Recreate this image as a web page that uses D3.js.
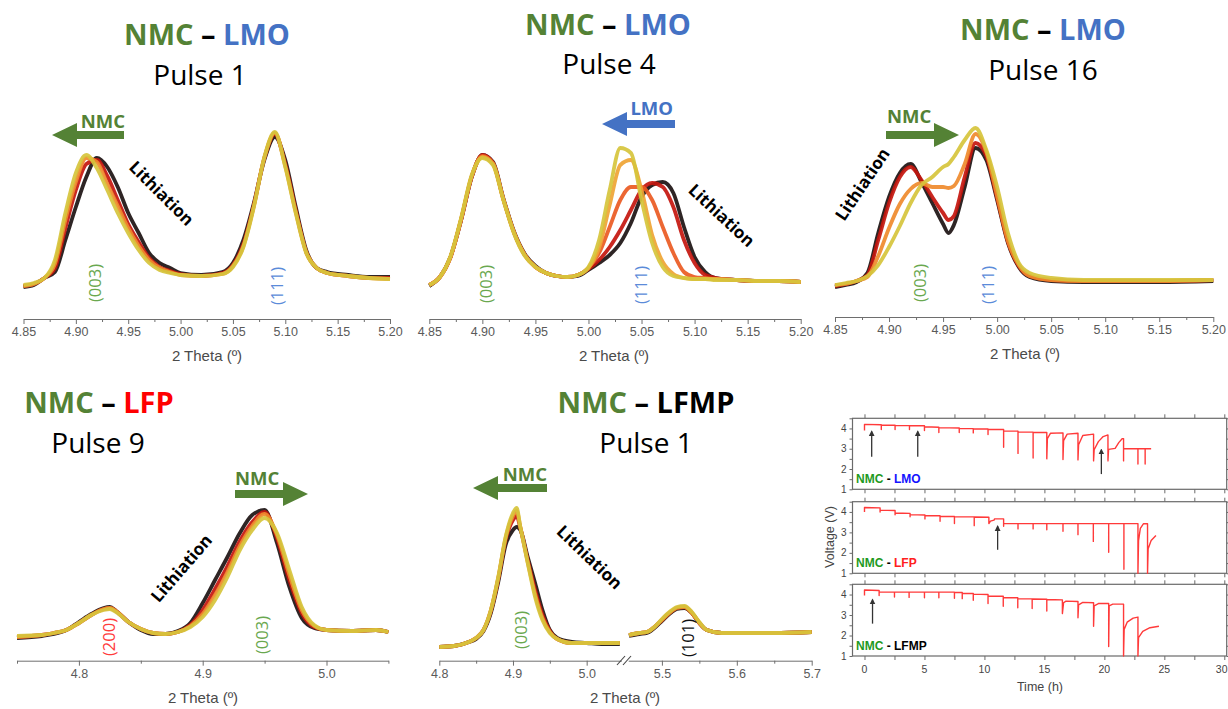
<!DOCTYPE html>
<html>
<head>
<meta charset="utf-8">
<script src="https://cdn.jsdelivr.net/npm/d3@7"></script>
<style>
  body { margin: 0; background: #fff; }
  svg { display: block; }
</style>
</head>
<body>
<svg id="fig" width="1228" height="709"></svg>
<script>
// ---------------- XRD scans (2θ in degrees, intensity in a.u.) ----------------
// Each pattern: a 2θ grid and several scans, from the first (start) to the last (end) of the pulse.

// NMC – LMO, pulse 1
const lmo1Theta = [4.85,4.86,4.87,4.88,4.89,4.90,4.91,4.92,4.93,4.94,4.95,4.96,4.97,4.98,4.99,5.00,5.02,5.04,5.05,5.06,5.07,5.08,5.09,5.10,5.11,5.12,5.13,5.14,5.16,5.18,5.20];
const lmo1Start = [6.5,7.5,11,14,30,46.5,61.5,71,66.5,56.5,43.5,33.5,23.5,18.5,16,13.5,12.5,14,18.5,30,48.5,70,81.5,70,46.5,25,16,14,12.5,11.5,11.5];
const lmo1Early = [7,8,11,16,36,55,68,70,62,50,38,29,21,16.5,14.5,13,12,13.5,17.5,28,47.5,71,83,68,45,24,16,13.5,12,11,11];
const lmo1Late  = [7,8,11,18,40,59,71,69,58,47,36,27,20,16,14,12.5,12,13,17,27,47,71,83.5,67,44,24,16,13.5,12,11,10.5];
const lmo1End   = [7.5,8.5,11,20,43.5,63.5,72.5,66,55,43.5,33.5,25,18.5,15,13.5,12.5,12,13,16.5,26.5,46.5,71.5,84,66.5,43.5,23.5,16,13.5,12,11,10.5];

// NMC – LMO, pulse 4
const lmo4Theta = [4.85,4.86,4.87,4.88,4.89,4.90,4.91,4.92,4.93,4.94,4.95,4.96,4.97,4.98,4.99,5.00,5.01,5.02,5.03,5.04,5.05,5.06,5.07,5.08,5.09,5.10,5.11,5.12,5.14,5.16,5.18,5.20];
const lmo4Start = [7,11.5,21.5,40,61.5,72.5,69,50.5,34,23,17,13.5,12,11.5,12,15,18.5,22.5,28.5,38.5,51.5,57.5,59,53.5,36.5,21.5,14,11,10,9.5,9.5,9];
const lmo4Early = [7.5,11.5,21.5,40,61.5,72.5,68.5,50,33.5,22.5,16.5,13.5,12,11.5,12.5,15.5,20,26.5,35,45,55,58.5,56.5,46.5,30,18.5,12.5,11,10,9.5,9.5,9];
const lmo4Mid   = [7.5,11.5,21.5,40.5,62,72,68.5,50,33.5,22.5,16.5,13.5,12,11.5,12.5,16,23.5,36.5,50,56.5,56.5,50,36.5,23.5,14,11.5,11,10.5,10,9.5,9.5,9];
const lmo4Late  = [7.5,11.5,21.5,40.5,62,71.5,68,50,33.5,22.5,16.5,13.5,12,11.5,12.5,16,26,47.5,67.5,70,55,32.5,19,13,11,10.5,10.5,10.5,10,9.5,9.5,9];
const lmo4End   = [7.5,11.5,22,41,62.5,71,67.5,49.5,33,22,16.5,13.5,12,11.5,12.5,16.5,30,55,76,73.5,50,28.5,16.5,12,11,10.5,10.5,10,10,9.5,9.5,9];

// NMC – LMO, pulse 16
const lmo16Theta = [4.85,4.86,4.87,4.88,4.89,4.90,4.91,4.92,4.93,4.94,4.95,4.955,4.96,4.97,4.98,4.99,5.00,5.01,5.02,5.03,5.05,5.08,5.10,5.15,5.20];
const lmo16Start = [6.5,7.5,9,13.5,33.5,51.5,63.5,68,59,48.5,38,33.5,37.5,56.5,76,70,50,28.5,16.5,11.5,9.5,9,9,9,9.5];
const lmo16Early = [7,8,9.5,12.5,30,48.5,61.5,66.5,60,51.5,43.5,40,42,61.5,78.5,72,51,29,17,12,10,9.5,9.5,9.5,10];
const lmo16Late  = [7.5,8,9.5,11.5,22,36,48,55.5,58.5,56.5,56.5,56,57,68,83,74,52,29.5,17.5,12,10,9.5,9.5,9.5,10];
const lmo16End   = [7.5,8.5,9.5,12,17.5,26.5,37,48.5,57.5,61.5,66.5,68,71.5,80,86,75,56.5,33.5,18.5,13.5,11,10,10,10,10];

// NMC – LFP, pulse 9
const lfp9Theta = [4.75,4.77,4.78,4.79,4.80,4.81,4.82,4.825,4.83,4.84,4.85,4.86,4.87,4.88,4.89,4.90,4.91,4.92,4.93,4.94,4.95,4.96,4.97,4.98,4.99,5.00,5.02,5.04,5.05];
const lfp9Start = [31,32,33,35,39,43,46,46.5,44.5,39,35,33,33,34.5,38.5,48.5,60,71.5,83.5,92.5,95,78.5,56.5,41,36,35,34.5,35,34];
const lfp9Early = [31.5,32.5,33.5,35,38.5,42.5,45.5,46,44.5,39,35.5,33.5,33,34,37.5,45,55.5,67,79.5,89,94,81,60,43.5,36.5,35,34.5,35,34];
const lfp9Late  = [31.5,32.5,33.5,35,38.5,42.5,45.5,46,44.5,39,35.5,33.5,33,34,37,43,52.5,64,77,87,93,82.5,62.5,45,37,35,34.5,35,34];
const lfp9End   = [32,32.5,33.5,35,38.5,42.5,45,45.5,44,39,35.5,33.5,33,34,36.5,41.5,50,61.5,75,85,91,83.5,65,46.5,37.5,35,34.5,35,34];

// NMC – LFMP, pulse 1 (two 2θ windows)
const lfmp1ThetaA = [4.80,4.82,4.84,4.85,4.86,4.87,4.88,4.89,4.90,4.905,4.91,4.92,4.93,4.94,4.95,4.96,4.98,5.00,5.02,5.045];
const lfmp1StartA = [26.5,27,29,30.5,34.5,43.5,59,77.5,85,86.5,85,71.5,58.5,45,35,31,29,28.5,28,28];
const lfmp1EarlyA = [26.5,27,29,31,35,44.5,60.5,80,90,92,86,70,55,42.5,34.5,30.5,28.5,28.5,28.5,28.5];
const lfmp1LateA  = [26.5,27,29,31,35,45,61,81,92,94.5,86.5,69,53,41,34,30.5,28.5,28.5,28.5,28.5];
const lfmp1EndA   = [26.5,27,29,31,35,45,61.5,81.5,93.5,96,86.5,68.5,51.5,40,33.5,30.5,28.5,28.5,28.5,28.5];
const lfmp1ThetaB = [5.456,5.47,5.48,5.49,5.50,5.51,5.52,5.53,5.54,5.55,5.56,5.58,5.60,5.65,5.70];
const lfmp1StartB = [32,33,33.5,36,39.5,43,45.5,46,43.5,38.5,35,33.5,33.5,33.5,34];
const lfmp1EarlyB = [32.5,33.5,34,36.5,40,43.5,46,46.5,43.5,38.5,35,33.5,33.5,33.5,34];
const lfmp1LateB  = [32.5,33.5,34,36.5,40,43.5,46,46.5,43.5,38.5,35,33.5,33.5,33.5,34];
const lfmp1EndB   = [32.5,33.5,34,36.5,40.5,44,46.5,47,44,39,35,33.5,33.5,33.5,34];

// 2θ tick values
const ticksLMO  = [4.85,4.90,4.95,5.00,5.05,5.10,5.15,5.20];
const minorLMO  = [4.875,4.925,4.975,5.025,5.075,5.125,5.175];
const ticksLFP  = [4.8,4.9,5.0];
const minorLFP  = [4.75,4.85,4.95,5.05];
const ticksLFMPa = [4.8,4.9,5.0];
const minorLFMPa = [4.85,4.95];
const ticksLFMPb = [5.5,5.6,5.7];
const minorLFMPb = [5.55,5.65];

// ---------------- Pulsed discharge voltage profiles: [time (h), voltage (V)] ----------------
const lmoCell = [[0,3.9],[0,4.2],[1.4,4.18],[1.4,3.95],[1.4,4.17],[2.55,4.16],[2.55,3.95],[2.55,4.15],[3.75,4.14],[3.75,3.95],[3.75,4.14],[5.0,4.13],[5.0,3.9],[5.0,4.08],[6.2,4.06],[6.2,3.8],[6.2,4.04],[7.9,4.02],[7.9,3.8],[7.9,4.0],[9.07,3.99],[9.07,3.78],[9.07,3.98],[10.3,3.97],[10.3,3.7],[10.3,3.96],[11.6,3.95],[11.6,3.07],[11.6,3.88],[12.8,3.87],[12.8,2.77],[12.8,3.83],[14.06,3.82],[14.06,2.54],[14.06,3.8],[15.2,3.8],[15.2,2.5],[15.25,3.5],[15.5,3.76],[16.55,3.78],[16.55,2.47],[16.6,3.4],[16.9,3.72],[17.8,3.76],[17.8,2.45],[17.85,3.2],[18.2,3.65],[19.1,3.72],[19.1,2.4],[19.15,2.95],[19.5,3.35],[19.9,3.6],[20.3,3.68],[20.3,2.4],[20.35,2.97],[20.9,3.02],[21.2,3.3],[21.5,3.5],[21.6,3.5],[21.6,2.4],[21.6,3.0],[22.8,3.0],[22.8,2.25],[22.8,3.0],[23.4,3.0],[23.4,2.25],[23.4,3.0],[23.9,3.0]];
const lfpCell = [[0,4.0],[0,4.22],[1.3,4.2],[1.3,4.0],[1.3,4.09],[2.55,4.07],[2.55,3.86],[2.55,3.95],[3.8,3.93],[3.8,3.76],[3.8,3.87],[5.04,3.85],[5.04,3.66],[5.04,3.82],[6.3,3.81],[6.3,3.54],[6.3,3.79],[7.5,3.78],[7.5,3.43],[7.5,3.77],[9.15,3.76],[9.15,3.33],[9.15,3.75],[10.37,3.74],[10.37,3.43],[10.5,3.55],[10.8,3.6],[10.85,3.66],[11.6,3.66],[11.6,3.3],[11.6,3.43],[12.8,3.43],[12.8,3.17],[12.8,3.43],[14.06,3.43],[14.06,3.17],[14.06,3.43],[15.2,3.43],[15.2,3.13],[15.2,3.43],[16.55,3.43],[16.55,3.05],[16.55,3.43],[17.8,3.43],[17.8,2.89],[17.8,3.43],[19.08,3.43],[19.08,2.56],[19.08,3.43],[20.36,3.43],[20.36,2.03],[20.36,3.43],[21.63,3.43],[21.63,1.2],[21.63,3.43],[22.8,3.43],[22.8,1.0],[22.85,2.6],[23.0,3.2],[23.25,3.42],[23.6,3.42],[23.6,1.0],[23.65,2.2],[23.9,2.6],[24.3,2.85]];
const lfmpCell = [[0,3.95],[0,4.22],[1.22,4.2],[1.22,3.95],[1.22,4.12],[2.5,4.12],[2.5,3.88],[2.5,4.12],[3.72,4.12],[3.72,3.86],[3.72,4.12],[5.0,4.12],[5.0,3.84],[5.0,4.12],[6.2,4.12],[6.2,3.84],[6.2,4.12],[7.5,4.12],[7.5,3.82],[7.5,4.1],[8.15,4.1],[8.15,3.8],[8.15,4.06],[9.07,4.05],[9.07,3.72],[9.07,4.02],[10.3,4.0],[10.3,3.56],[10.3,3.93],[11.57,3.92],[11.57,3.43],[11.57,3.85],[12.78,3.84],[12.78,3.35],[12.78,3.8],[13.98,3.79],[13.98,3.32],[13.98,3.78],[15.2,3.77],[15.2,3.2],[15.2,3.76],[16.5,3.74],[16.5,3.07],[16.6,3.6],[16.8,3.68],[17.8,3.66],[17.8,2.87],[17.85,3.5],[18.2,3.62],[19.1,3.6],[19.1,2.45],[19.15,3.45],[19.5,3.56],[20.36,3.56],[20.36,1.46],[20.4,3.45],[20.7,3.53],[21.6,3.53],[21.6,1.0],[21.65,2.3],[21.9,2.65],[22.4,2.85],[22.8,2.9],[22.8,1.0],[22.85,1.9],[23.2,2.2],[23.8,2.38],[24.55,2.45]];

const timeTicks = [0,5,10,15,20,25,30];
const timeMinor = [2.5,7.5,12.5,17.5,22.5,27.5];
const voltTicks = [1,2,3,4];
const voltMinor = [1.5,2.5,3.5,4.5];

// ---------------- drawing ----------------
const svg = d3.select("#fig");
const TITLE_FONT = "'Open Sans', 'Noto Sans', sans-serif";
const AXIS_FONT = "'Liberation Sans', Arial, sans-serif";
const GREEN = "#548235", BLUE = "#4472c4", RED = "#ff0000";
const scanColors4 = ["#1c1212", "#c4160e", "#ef8a2c", "#d6c43c"];
const scanColors5 = ["#1c1212", "#c4160e", "#ea5a22", "#efa434", "#d6c43c"];

function zip(xs, ys) { return xs.map((t, i) => [t, ys[i]]); }

function xrdPanel(p) {
  const g = svg.append("g");
  const y = d3.scaleLinear().domain([0, 100]).range(p.yRange);
  p.segments.forEach(seg => {
    const x = d3.scaleLinear().domain(seg.domain).range(seg.range);
    const major = g.append("g").attr("transform", `translate(0,${p.axisY})`)
      .call(d3.axisBottom(x).tickValues(seg.ticks).tickFormat(d3.format(p.fmt)).tickSize(5).tickSizeOuter(0));
    major.select(".domain").attr("stroke", "#6e6e6e");
    major.selectAll(".tick line").attr("stroke", "#6e6e6e");
    major.selectAll(".tick text").attr("fill", "#5a5a5a").attr("font-family", AXIS_FONT)
      .attr("font-size", 12.5).attr("y", 8);
    const minor = g.append("g").attr("transform", `translate(0,${p.axisY})`)
      .call(d3.axisBottom(x).tickValues(seg.minor).tickFormat("").tickSize(3).tickSizeOuter(0));
    minor.select(".domain").remove();
    minor.selectAll(".tick line").attr("stroke", "#6e6e6e");

    const line = d3.line().x(d => x(d[0])).y(d => y(d[1])).curve(d3.curveMonotoneX);
    const colors = seg.scans.length === 5 ? scanColors5 : scanColors4;
    seg.scans.forEach((vals, i) => {
      g.append("path").datum(zip(seg.theta, vals)).attr("d", line)
        .attr("fill", "none").attr("stroke", colors[i]).attr("stroke-width", 3.8)
        .attr("stroke-linejoin", "round").attr("stroke-opacity", 0.92);
    });
  });
  g.append("text").attr("x", p.labelX).attr("y", p.axisY + 42).attr("text-anchor", "middle")
    .attr("font-family", AXIS_FONT).attr("font-size", 15).attr("fill", "#4a4a4a").text("2 Theta (º)");
}

function title(x, y, parts, size, weight) {
  const t = svg.append("text").attr("x", x).attr("y", y).attr("text-anchor", "middle")
    .attr("font-family", TITLE_FONT).attr("font-size", size).attr("font-weight", weight);
  parts.forEach(([s, c]) => t.append("tspan").attr("fill", c).text(s));
}

function rotLabel(x, y, angle, text, color, size, weight) {
  svg.append("text").attr("transform", `translate(${x},${y}) rotate(${angle})`)
    .attr("text-anchor", "middle").attr("dominant-baseline", "central")
    .attr("font-family", TITLE_FONT).attr("font-size", size).attr("font-weight", weight || 400)
    .attr("fill", color).text(text);
}

// block arrow from tail x0 to tip x1 at height y
function blockArrow(x0, x1, y, color) {
  const dir = Math.sign(x1 - x0), hl = 25, hh = 12, sh = 4;
  const xb = x1 - dir * hl;
  const pts = [[x0, y - sh], [xb, y - sh], [xb, y - hh], [x1, y], [xb, y + hh], [xb, y + sh], [x0, y + sh]];
  svg.append("polygon").attr("points", pts.map(p => p.join(",")).join(" ")).attr("fill", color);
}
function arrowText(x, y, anchor, text, color) {
  svg.append("text").attr("x", x).attr("y", y).attr("text-anchor", anchor)
    .attr("font-family", TITLE_FONT).attr("font-size", 18.5).attr("font-weight", 700)
    .attr("fill", color).text(text);
}

// ---- top row: NMC – LMO ----
xrdPanel({ axisY: 319, yRange: [300, 100], fmt: ".2f", labelX: 207,
  segments: [{ domain: [4.85, 5.20], range: [23.5, 390], ticks: ticksLMO, minor: minorLMO,
    theta: lmo1Theta, scans: [lmo1Start, lmo1Early, lmo1Late, lmo1End] }] });
xrdPanel({ axisY: 319, yRange: [300, 100], fmt: ".2f", labelX: 614,
  segments: [{ domain: [4.85, 5.20], range: [429.3, 800.7], ticks: ticksLMO, minor: minorLMO,
    theta: lmo4Theta, scans: [lmo4Start, lmo4Early, lmo4Mid, lmo4Late, lmo4End] }] });
xrdPanel({ axisY: 317, yRange: [300, 100], fmt: ".2f", labelX: 1025,
  segments: [{ domain: [4.85, 5.20], range: [835, 1213.3], ticks: ticksLMO, minor: minorLMO,
    theta: lmo16Theta, scans: [lmo16Start, lmo16Early, lmo16Late, lmo16End] }] });

// ---- bottom row: NMC – LFP and NMC – LFMP ----
xrdPanel({ axisY: 660.7, yRange: [700, 500], fmt: ".1f", labelX: 203,
  segments: [{ domain: [4.75, 5.05], range: [17, 388.4], ticks: ticksLFP, minor: minorLFP,
    theta: lfp9Theta, scans: [lfp9Start, lfp9Early, lfp9Late, lfp9End] }] });
xrdPanel({ axisY: 660.7, yRange: [700, 500], fmt: ".1f", labelX: 625,
  segments: [
    { domain: [4.8, 5.047], range: [439.3, 621.3], ticks: ticksLFMPa, minor: minorLFMPa,
      theta: lfmp1ThetaA, scans: [lfmp1StartA, lfmp1EarlyA, lfmp1LateA, lfmp1EndA] },
    { domain: [5.455, 5.7], range: [628.2, 811.7], ticks: ticksLFMPb, minor: minorLFMPb,
      theta: lfmp1ThetaB, scans: [lfmp1StartB, lfmp1EarlyB, lfmp1LateB, lfmp1EndB] }] });
// axis break marks
[[617, 622], [623, 628]].forEach(([a, b]) => {
  svg.append("line").attr("x1", a).attr("y1", 665).attr("x2", b + 3).attr("y2", 656)
    .attr("stroke", "#444").attr("stroke-width", 1.1);
});

// ---- titles ----
const lmoTitle = [["NMC", GREEN], [" – ", "#000"], ["LMO", BLUE]];
title(207, 45, lmoTitle, 29, 700);
title(200, 85, [["Pulse 1", "#000"]], 28, 400);
title(608, 35, lmoTitle, 29, 700);
title(609, 74, [["Pulse 4", "#000"]], 28, 400);
title(1043, 40, lmoTitle, 29, 700);
title(1043, 80, [["Pulse 16", "#000"]], 28, 400);
title(99, 413, [["NMC", GREEN], [" – ", "#000"], ["LFP", RED]], 29, 700);
title(98, 453, [["Pulse 9", "#000"]], 28, 400);
title(646, 413, [["NMC", GREEN], [" – ", "#000"], ["LFMP", "#000"]], 29, 700);
title(646, 453, [["Pulse 1", "#000"]], 28, 400);

// ---- shift arrows ----
blockArrow(124, 52, 135, GREEN);  arrowText(125, 128, "end", "NMC", GREEN);
blockArrow(675, 602, 124, BLUE);  arrowText(673, 115, "end", "LMO", BLUE);
blockArrow(886, 959, 135, GREEN); arrowText(887, 123, "start", "NMC", GREEN);
blockArrow(235, 308, 494, GREEN); arrowText(235, 485, "start", "NMC", GREEN);
blockArrow(547, 473, 488, GREEN); arrowText(547, 481, "end", "NMC", GREEN);

// ---- "Lithiation" labels ----
rotLabel(162, 193, 45, "Lithiation", "#000", 17, 700);
rotLabel(722, 215, 43, "Lithiation", "#000", 17, 700);
rotLabel(862, 184, -56, "Lithiation", "#000", 17, 700);
rotLabel(181, 568, -49, "Lithiation", "#000", 17, 700);
rotLabel(590, 557, 44, "Lithiation", "#000", 17, 700);

// ---- reflection indices ----
const MILLER_GREEN = "#6aa84f", MILLER_BLUE = "#5b8bd9";
rotLabel(94, 283, -90, "(003)", MILLER_GREEN, 16.5);
rotLabel(276, 286, -90, "(111)", MILLER_BLUE, 16.5);
rotLabel(485, 284, -90, "(003)", MILLER_GREEN, 16.5);
rotLabel(640, 285, -90, "(111)", MILLER_BLUE, 16.5);
rotLabel(919, 283, -90, "(003)", MILLER_GREEN, 16.5);
rotLabel(987, 285, -90, "(111)", MILLER_BLUE, 16.5);
rotLabel(108, 637, -90, "(200)", "#ff3b3b", 16.5);
rotLabel(261, 635, -90, "(003)", MILLER_GREEN, 16.5);
rotLabel(520, 630, -90, "(003)", MILLER_GREEN, 16.5);
rotLabel(687, 638, -90, "(101)", "#111", 16.5);

// ---------------- voltage profiles ----------------
const tx = d3.scaleLinear().domain([-1, 30.2]).range([852.5, 1226.7]);
const cells = [
  { data: lmoCell,  top: 418.3, bottom: 489.3, name: [["NMC", "#1f9a1f"], [" - ", "#000"], ["LMO", "#1414ff"]] },
  { data: lfpCell,  top: 501.7, bottom: 573.3, name: [["NMC", "#1f9a1f"], [" - ", "#000"], ["LFP", "#ff2020"]] },
  { data: lfmpCell, top: 584.3, bottom: 656.0, name: [["NMC", "#1f9a1f"], [" - ", "#000"], ["LFMP", "#000"]] }
];
const voltArrows = [
  { cell: 0, t: 0.6, from: 2.6, to: 3.85 },
  { cell: 0, t: 4.44, from: 2.6, to: 3.85 },
  { cell: 0, t: 19.75, from: 1.75, to: 2.95 },
  { cell: 1, t: 11.1, from: 2.15, to: 3.3 },
  { cell: 2, t: 0.67, from: 2.58, to: 3.75 }
];

const FRAME = "#6a6a6a";
cells.forEach((c, ci) => {
  const g = svg.append("g");
  const vy = d3.scaleLinear().domain([1, 4.5]).range([c.bottom, c.top]);
  c.vy = vy;
  const x0 = tx.range()[0], x1 = tx.range()[1];
  // outward ticks on all four sides
  const ax = (gen, tr) => {
    const a = g.append("g").attr("transform", tr).call(gen);
    a.select(".domain").remove();
    a.selectAll(".tick line").attr("stroke", FRAME);
    return a;
  };
  ax(d3.axisTop(tx).tickValues(timeTicks.concat(timeMinor)).tickFormat("").tickSize(4), `translate(0,${c.top})`);
  ax(d3.axisBottom(tx).tickValues(timeTicks.concat(timeMinor)).tickFormat("").tickSize(4), `translate(0,${c.bottom})`);
  ax(d3.axisRight(vy).tickValues(voltTicks.concat(voltMinor)).tickFormat("").tickSize(3), `translate(${x1},0)`);
  ax(d3.axisLeft(vy).tickValues(voltTicks.concat(voltMinor)).tickFormat("").tickSize(3), `translate(${x0},0)`);
  voltTicks.forEach(v => {
    g.append("text").attr("x", x0 - 6).attr("y", vy(v)).attr("dy", "0.35em").attr("text-anchor", "end")
      .attr("font-family", AXIS_FONT).attr("font-size", 10).attr("fill", "#444").text(v);
  });
  if (ci === cells.length - 1) {
    timeTicks.forEach((t, k) => {
      const last = k === timeTicks.length - 1;
      g.append("text").attr("x", last ? 1227.5 : tx(t)).attr("y", c.bottom + 17)
        .attr("text-anchor", last ? "end" : "middle")
        .attr("font-family", AXIS_FONT).attr("font-size", 10.5).attr("fill", "#444").text(t);
    });
  }
  g.append("rect").attr("x", x0).attr("y", c.top).attr("width", x1 - x0).attr("height", c.bottom - c.top)
    .attr("fill", "none").attr("stroke", FRAME).attr("stroke-width", 1.2);

  const vline = d3.line().x(d => tx(d[0])).y(d => vy(d[1]));
  g.append("path").datum(c.data).attr("d", vline).attr("fill", "none")
    .attr("stroke", "#ff3a3a").attr("stroke-width", 1.4).attr("stroke-linejoin", "round");

  const nm = g.append("text").attr("x", 856).attr("y", c.bottom - 6).attr("font-family", AXIS_FONT)
    .attr("font-size", 12).attr("font-weight", 700);
  c.name.forEach(([s, col]) => nm.append("tspan").attr("fill", col).text(s));
});

svg.append("defs").append("marker").attr("id", "tip").attr("viewBox", "0 0 10 10")
  .attr("refX", 8).attr("refY", 5).attr("markerWidth", 4.5).attr("markerHeight", 5.5)
  .attr("orient", "auto").append("path").attr("d", "M0,0L10,5L0,10Z").attr("fill", "#333");
voltArrows.forEach(a => {
  const vy = cells[a.cell].vy;
  svg.append("line").attr("x1", tx(a.t)).attr("x2", tx(a.t)).attr("y1", vy(a.from)).attr("y2", vy(a.to))
    .attr("stroke", "#333").attr("stroke-width", 1.3).attr("marker-end", "url(#tip)");
});

svg.append("text").attr("x", 1040).attr("y", 691).attr("text-anchor", "middle")
  .attr("font-family", AXIS_FONT).attr("font-size", 12.5).attr("fill", "#444").text("Time (h)");
svg.append("text").attr("transform", "translate(834,537) rotate(-90)").attr("text-anchor", "middle")
  .attr("font-family", AXIS_FONT).attr("font-size", 12.5).attr("fill", "#444").text("Voltage (V)");
</script>
</body>
</html>
